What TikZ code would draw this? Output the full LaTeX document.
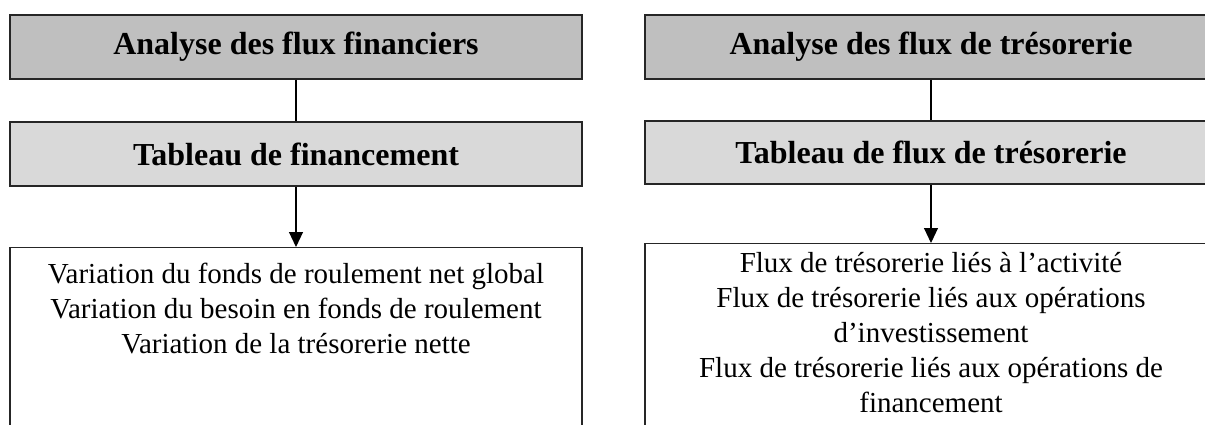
\documentclass[tikz,border=0pt]{standalone}
\usepackage{fontspec}
\setmainfont{Liberation Serif}
\usetikzlibrary{arrows.meta}
\definecolor{hdrgray}{HTML}{BFBFBF}
\definecolor{subgray}{HTML}{D9D9D9}
\definecolor{edgecol}{HTML}{262626}
\begin{document}
\begin{tikzpicture}[x=1pt,y=-1pt,
  hdr/.style={draw=edgecol,line width=1.5pt,fill=hdrgray,minimum width=572pt,minimum height=64pt,inner sep=0pt,font=\bfseries\fontsize{32}{37}\selectfont},
  sub/.style={hdr,fill=subgray},
  content/.style={draw=edgecol,line width=1.2pt,fill=white,minimum width=572pt,minimum height=220pt,inner sep=0pt,anchor=north},
  txt/.style={anchor=base,inner sep=0pt,font=\fontsize{29}{34}\selectfont},
  link/.style={line width=1.1pt,black},
  arr/.style={link,-{Triangle[length=15pt,width=14pt]}}]
\useasboundingbox (0,0) rectangle (1205,425);
\clip (0,0) rectangle (1205,425);
% left column
\node[hdr] (lh) at (296,47) {Analyse des flux financiers};
\node[sub] (ls) at (296,154) {Tableau de financement};
\node[content] (lc) at (296,247) {};
\node[txt] (l1) at (296,283) {Variation du fonds de roulement net global};
\node[txt] (l2) at (296,318) {Variation du besoin en fonds de roulement};
\node[txt] (l3) at (296,353) {Variation de la trésorerie nette};
\draw[link] (lh) -- (ls);
\draw[arr] (ls) -- (lc);
% right column
\node[hdr] (rh) at (931,47) {Analyse des flux de trésorerie};
\node[sub,minimum height=63pt] (rs) at (931,152.5) {Tableau de flux de trésorerie};
\node[content] (rc) at (931,243) {};
\node[txt] (r1) at (931,272) {Flux de trésorerie liés à l’activité};
\node[txt] (r2) at (931,307) {Flux de trésorerie liés aux opérations};
\node[txt] (r3) at (931,342) {d’investissement};
\node[txt] (r4) at (931,377) {Flux de trésorerie liés aux opérations de};
\node[txt] (r5) at (931,412) {financement};
\draw[link] (rh) -- (rs);
\draw[arr] (rs) -- (rc);
\end{tikzpicture}
\end{document}
